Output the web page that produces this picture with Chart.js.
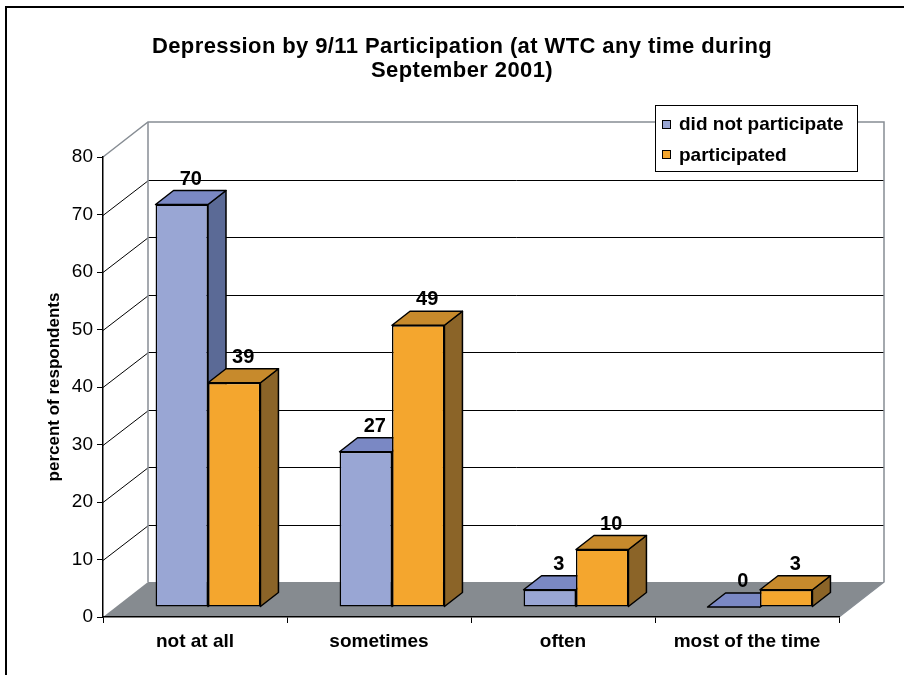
<!DOCTYPE html>
<html>
<head>
<meta charset="utf-8">
<title>Depression by 9/11 Participation</title>
<script src="https://cdn.jsdelivr.net/npm/chart.js@4/dist/chart.umd.min.js"></script>
<style>
  html, body { margin: 0; padding: 0; background: #fff; }
  #wrap { width: 904px; height: 675px; }
</style>
</head>
<body>
<div id="wrap"><canvas id="chart" width="904" height="675"></canvas></div>
<script>
// ---- data ----
const categories = ['not at all', 'sometimes', 'often', 'most of the time'];
const didNotParticipate = [70, 27, 3, 0];
const participated = [39, 49, 10, 3];
const yTicks = [0, 10, 20, 30, 40, 50, 60, 70, 80];
const seriesNames = ['did not participate', 'participated'];
const chartTitle = ['Depression by 9/11 Participation (at WTC any time during', 'September 2001)'];
const yAxisTitle = 'percent of respondents';

// ---- look ----
const FONT = '"Liberation Sans", Arial, Helvetica, sans-serif';
const faces = [
  { front: '#99a6d4', top: '#7a88c4', side: '#5b6a96' },   // did not participate
  { front: '#f4a62e', top: '#c78a2c', side: '#8b6428' }    // participated
];
const FLOOR = '#868b90';
const EDGE = '#878d94';
// oblique projection offsets (pixels) for the depth axis
const WALL = { dx: 45, dy: -35 };   // back wall relative to front plane
const FRONT = { dx: 13, dy: -10 };  // bar front face relative to front plane
const DEPTH = { dx: 18, dy: -14 };  // bar thickness

Chart.defaults.font.family = FONT;
Chart.defaults.color = '#000';

function poly(ctx, pts, fill) {
  ctx.beginPath();
  ctx.moveTo(pts[0][0], pts[0][1]);
  for (let i = 1; i < pts.length; i++) ctx.lineTo(pts[i][0], pts[i][1]);
  ctx.closePath();
  ctx.fillStyle = fill;
  ctx.fill();
  ctx.stroke();
}

const boxPlugin = {
  id: 'box3d',
  beforeDraw(chart) {
    const { ctx, chartArea: a, scales: { y } } = chart;
    ctx.save();
    ctx.fillStyle = '#fff';
    ctx.fillRect(0, 0, chart.width, chart.height);

    // outer frame
    ctx.strokeStyle = '#000';
    ctx.lineWidth = 2;
    ctx.beginPath();
    ctx.moveTo(6, chart.height);
    ctx.lineTo(6, 7);
    ctx.lineTo(chart.width, 7);
    ctx.stroke();

    // title
    ctx.fillStyle = '#000';
    ctx.font = 'bold 22px ' + FONT;
    if ('letterSpacing' in ctx) ctx.letterSpacing = '0.4px';
    ctx.textAlign = 'center';
    ctx.textBaseline = 'alphabetic';
    chartTitle.forEach((t, i) => ctx.fillText(t, 462, 53 + i * 23.5));
    if ('letterSpacing' in ctx) ctx.letterSpacing = '0px';

    const wl = a.left + WALL.dx, wr = a.right + WALL.dx;
    const wt = a.top + WALL.dy, wb = a.bottom + WALL.dy;

    // floor
    ctx.fillStyle = FLOOR;
    ctx.beginPath();
    ctx.moveTo(a.left, a.bottom);
    ctx.lineTo(a.right, a.bottom);
    ctx.lineTo(wr, wb);
    ctx.lineTo(wl, wb);
    ctx.closePath();
    ctx.fill();

    // grid lines: side wall diagonals and back wall horizontals
    ctx.strokeStyle = '#000';
    ctx.lineWidth = 1;
    yTicks.forEach(v => {
      if (v <= y.min || v >= y.max) return;
      const py = Math.round(y.getPixelForValue(v)) + 0.5;
      ctx.beginPath();
      ctx.moveTo(a.left, py);
      ctx.lineTo(wl + 0.5, py + WALL.dy);
      ctx.lineTo(wr, py + WALL.dy);
      ctx.stroke();
    });

    // wall edges
    ctx.strokeStyle = EDGE;
    ctx.lineWidth = 1.5;
    ctx.beginPath();
    ctx.moveTo(a.left, a.top);
    ctx.lineTo(wl, wt);
    ctx.lineTo(wr, wt);
    ctx.lineTo(wr, wb);
    ctx.lineTo(a.right, a.bottom);
    ctx.stroke();
    ctx.beginPath();
    ctx.moveTo(wl, wt);
    ctx.lineTo(wl, wb);
    ctx.stroke();

    // legend
    ctx.fillStyle = '#fff';
    ctx.strokeStyle = '#000';
    ctx.lineWidth = 1;
    ctx.fillRect(655.5, 105.5, 202, 66);
    ctx.strokeRect(655.5, 105.5, 202, 66);
    ctx.font = 'bold 19px ' + FONT;
    ctx.textAlign = 'left';
    seriesNames.forEach((name, i) => {
      const sy = 120.5 + i * 30;
      ctx.fillStyle = faces[i].front;
      ctx.fillRect(662.5, sy, 8, 8);
      ctx.strokeRect(662.5, sy, 8, 8);
      ctx.fillStyle = '#000';
      ctx.fillText(name, 679, 130 + i * 31);
    });
    ctx.restore();
  },
  beforeDatasetsDraw(chart) {
    const { ctx } = chart;
    const metas = chart.data.datasets.map((_, i) => chart.getDatasetMeta(i));
    ctx.save();
    ctx.strokeStyle = '#000';
    ctx.lineWidth = 1.5;
    ctx.lineJoin = 'round';
    for (let i = 0; i < categories.length; i++) {
      metas.forEach((meta, d) => {
        const el = meta.data[i];
        const { x, y, base, width } = el.getProps(['x', 'y', 'base', 'width'], true);
        const L = x - width / 2 + FRONT.dx, R = x + width / 2 + FRONT.dx;
        const T = y + FRONT.dy, B = base + FRONT.dy;
        poly(ctx, [[R, T], [R + DEPTH.dx, T + DEPTH.dy], [R + DEPTH.dx, B + DEPTH.dy], [R, B]], faces[d].side);
        poly(ctx, [[L, T], [R, T], [R + DEPTH.dx, T + DEPTH.dy], [L + DEPTH.dx, T + DEPTH.dy]], faces[d].top);
      });
    }
    ctx.restore();
    // the library paints the front faces, pushed into the depth
    ctx.save();
    ctx.translate(FRONT.dx, FRONT.dy);
  },
  afterDatasetsDraw(chart) {
    const { ctx } = chart;
    ctx.restore();
    ctx.save();
    ctx.fillStyle = '#000';
    ctx.font = 'bold 20px ' + FONT;
    ctx.textAlign = 'center';
    ctx.textBaseline = 'alphabetic';
    chart.data.datasets.forEach((ds, d) => {
      chart.getDatasetMeta(d).data.forEach((el, i) => {
        const { x, y } = el.getProps(['x', 'y'], true);
        ctx.fillText(String(ds.data[i]), x + FRONT.dx + DEPTH.dx / 2, y + FRONT.dy + DEPTH.dy - 6);
      });
    });
    ctx.restore();
  }
};

new Chart(document.getElementById('chart'), {
  type: 'bar',
  data: {
    labels: categories,
    datasets: [
      { label: seriesNames[0], data: didNotParticipate, backgroundColor: faces[0].front },
      { label: seriesNames[1], data: participated, backgroundColor: faces[1].front }
    ]
  },
  options: {
    responsive: false,
    animation: false,
    devicePixelRatio: 1,
    layout: { padding: { top: 157, right: 65, left: 0, bottom: 0 } },
    datasets: {
      bar: {
        categoryPercentage: 0.57,
        barPercentage: 1,
        borderColor: '#000',
        borderWidth: 1.5,
        borderSkipped: false
      }
    },
    plugins: {
      legend: { display: false },
      title: { display: false },
      tooltip: { enabled: false }
    },
    scales: {
      x: {
        grid: { offset: true, drawOnChartArea: false, tickLength: 6, color: '#000', lineWidth: 1 },
        border: { color: '#000', width: 1.5 },
        ticks: { font: { size: 19, weight: 'bold' }, color: '#000', padding: 7, maxRotation: 0, autoSkip: false },
        afterFit(s) { s.height = 58; }
      },
      y: {
        min: 0,
        max: 80,
        afterBuildTicks(s) { s.ticks = yTicks.map(v => ({ value: v })); },
        grid: { drawOnChartArea: false, tickLength: 6, color: '#000', lineWidth: 1 },
        border: { color: '#000', width: 1.5 },
        ticks: { font: { size: 19 }, color: '#000', padding: 4 },
        title: {
          display: true,
          text: yAxisTitle,
          font: { size: 17, weight: 'bold' },
          color: '#000',
          padding: { top: 44, bottom: 0 }
        },
        afterFit(s) { s.width = 103; }
      }
    }
  },
  plugins: [boxPlugin]
});
</script>
</body>
</html>
